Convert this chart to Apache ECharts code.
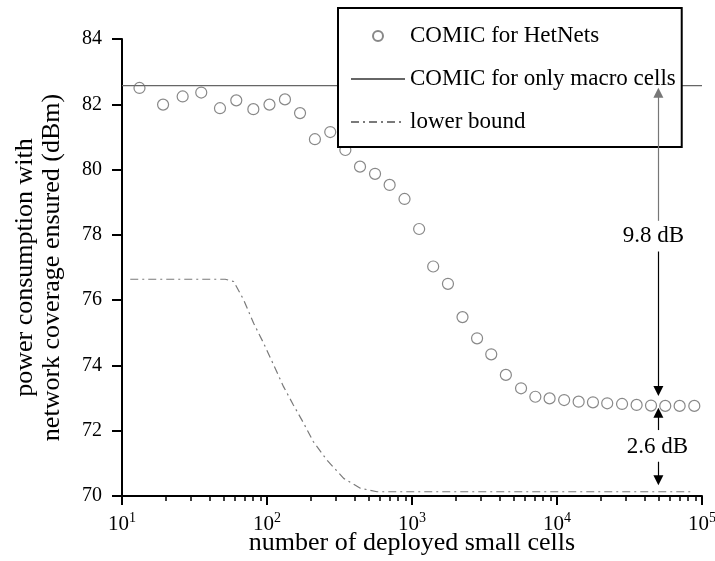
<!DOCTYPE html>
<html>
<head>
<meta charset="utf-8">
<script src="https://cdn.jsdelivr.net/npm/echarts@6/dist/echarts.min.js"></script>
<style>
  html, body { margin: 0; background: #fff; }
  #chart { width: 715px; height: 561px; }
</style>
</head>
<body>
<div id="chart"></div>
<script>
// number of deployed small cells for each simulated point
const cells = [13.2, 19.2, 26.2, 35.2, 47.4, 61.4, 80.5, 104, 133, 169, 214, 273, 347, 438, 556, 701, 888,
  1120, 1400, 1770, 2230, 2810, 3520, 4440, 5650, 7090, 8890, 11200, 14100, 17700, 22200, 28100, 35400,
  44500, 55800, 70100, 88500]
const hetnets = [82.50, 81.99, 82.24, 82.36, 81.88, 82.12, 81.85, 81.99, 82.15, 81.73, 80.93, 81.15, 80.60,
  80.09, 79.87, 79.53, 79.10, 78.18, 77.03, 76.50, 75.48, 74.83, 74.34, 73.71, 73.30, 73.04, 72.99, 72.94,
  72.89, 72.87, 72.84, 72.82, 72.79, 72.77, 72.76, 72.76, 72.76]
const macroCells = [10, 100000]
const macroPower = [82.57, 82.57]
const boundCells = [11.4, 51.5, 58.9, 69, 80.9, 94.8, 111, 130, 152, 179, 209, 259, 338, 440, 574, 83000]
const boundPower = [76.64, 76.64, 76.57, 76.01, 75.29, 74.68, 74.02, 73.35, 72.79, 72.23, 71.66, 71.10,
  70.54, 70.24, 70.13, 70.13]
const majorTicks = [10, 100, 1000, 10000, 100000]
const minorTicks = [20, 30, 40, 50, 60, 70, 80, 90, 200, 300, 400, 500, 600, 700, 800, 900,
  2000, 3000, 4000, 5000, 6000, 7000, 8000, 9000, 20000, 30000, 40000, 50000, 60000, 70000, 80000, 90000]
// gap annotations: [from, arrow end] at 5e4 cells
const gapAt = 50000
const arrows = [[78.43, 82.35], [77.49, 73.22], [72.02, 72.55], [71.05, 70.48]]
const gapLabels = ['9.8 dB', '2.6 dB']
const gapLabelPower = [77.97, 71.5]

const serif = 'Liberation Serif'
const chart = echarts.init(document.getElementById('chart'), null, { renderer: 'canvas' })

chart.setOption({
  animation: false,
  grid: { left: 122, right: 13, top: 39, bottom: 65, outerBoundsMode: 'none' },
  legend: {
    orient: 'vertical',
    left: 338,
    top: 8,
    padding: [14, 6, 11, 12],
    itemGap: 15,
    itemWidth: 54,
    itemHeight: 10,
    backgroundColor: '#fff',
    borderColor: '#000',
    borderWidth: 2,
    borderRadius: 0,
    selectedMode: false,
    z: 10,
    textStyle: { fontFamily: serif, fontSize: 23, color: '#000', lineHeight: 28 },
    data: [
      { name: 'COMIC for HetNets' },
      { name: 'COMIC for only macro cells', itemStyle: { opacity: 0 } },
      { name: 'lower bound', itemStyle: { opacity: 0 } }
    ]
  },
  xAxis: [{
    type: 'log',
    logBase: 10,
    min: 10,
    max: 100000,
    name: 'number of deployed small cells',
    nameLocation: 'middle',
    nameGap: 34,
    nameMoveOverlap: false,
    nameTextStyle: { fontFamily: serif, fontSize: 26, color: '#000' },
    axisLine: { lineStyle: { color: '#000', width: 2 } },
    axisTick: { length: 9, lineStyle: { color: '#000', width: 2 }, customValues: majorTicks },
    axisLabel: {
      margin: 15,
      customValues: majorTicks,
      formatter: v => `{b|10}{s|${Math.round(Math.log10(v))}}`,
      rich: {
        b: { fontFamily: serif, fontSize: 21, color: '#000', lineHeight: 24, verticalAlign: 'bottom' },
        s: { fontFamily: serif, fontSize: 14, color: '#000', verticalAlign: 'top', lineHeight: 14 }
      }
    },
    splitLine: { show: false },
    minorTick: { show: false }
  }, {
    type: 'log',
    logBase: 10,
    min: 10,
    max: 100000,
    position: 'bottom',
    axisLine: { show: false },
    axisLabel: { show: false },
    axisTick: { length: 5, lineStyle: { color: '#000', width: 1.5 }, customValues: minorTicks },
    splitLine: { show: false }
  }],
  yAxis: {
    type: 'value',
    min: 70,
    max: 84,
    interval: 2,
    name: 'power consumption with\nnetwork coverage ensured (dBm)',
    nameLocation: 'middle',
    nameGap: 56,
    nameMoveOverlap: false,
    nameTextStyle: { fontFamily: serif, fontSize: 26, color: '#000', lineHeight: 27 },
    axisLine: { show: true, lineStyle: { color: '#000', width: 2 } },
    axisTick: { show: true, length: 10, lineStyle: { color: '#000', width: 2 } },
    axisLabel: { margin: 20, fontFamily: serif, fontSize: 20, color: '#000' },
    splitLine: { show: false }
  },
  series: [{
    name: 'COMIC for HetNets',
    type: 'scatter',
    symbol: 'circle',
    symbolSize: 11,
    itemStyle: { color: 'rgba(255,255,255,0)', borderColor: '#6a6a6a', borderWidth: 1.2 },
    z: 3,
    data: cells.map((c, i) => [c, hetnets[i]])
  }, {
    name: 'COMIC for only macro cells',
    type: 'line',
    symbol: 'none',
    itemStyle: { color: '#666' },
    lineStyle: { color: '#666', width: 1.2 },
    data: macroCells.map((c, i) => [c, macroPower[i]])
  }, {
    name: 'lower bound',
    type: 'line',
    symbol: 'none',
    itemStyle: { color: '#7a7a7a' },
    lineStyle: { color: '#7a7a7a', width: 1.2, type: [8, 4, 2, 4] },
    data: boundCells.map((c, i) => [c, boundPower[i]])
  }, {
    // gap annotations, drawn above the legend box
    name: 'gap',
    type: 'line',
    z: 12,
    data: [],
    markLine: {
      silent: true,
      z: 12,
      symbol: ['none', 'triangle'],
      symbolSize: 10,
      label: { show: false },
      itemStyle: { color: '#000' },
      lineStyle: { color: '#000', width: 1.2, type: 'solid' },
      data: arrows.map((a, i) => [
        { coord: [gapAt, a[0]], lineStyle: i === 0 ? { color: '#777' } : {} },
        { coord: [gapAt, a[1]], itemStyle: { color: '#000' } }
      ])
    },
    markPoint: {
      silent: true,
      z: 12,
      symbolSize: 0,
      label: { show: true, position: 'inside', formatter: '{b}', fontFamily: serif, fontSize: 23, color: '#000' },
      data: gapLabels.map((t, i) => ({ name: t, coord: [gapAt, gapLabelPower[i]], label: { offset: [i === 0 ? -5 : -1, 0] } }))
    }
  }]
})
</script>
</body>
</html>
